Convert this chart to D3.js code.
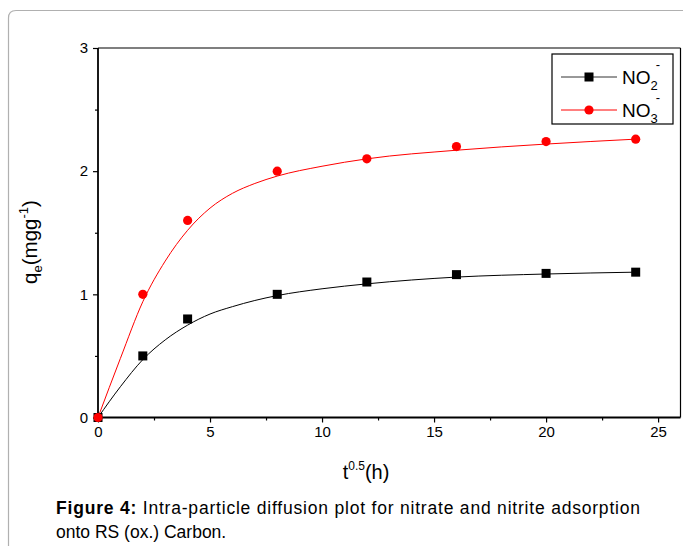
<!DOCTYPE html>
<html>
<head>
<meta charset="utf-8">
<script src="https://cdn.jsdelivr.net/npm/d3@7"></script>
<style>
html,body{margin:0;padding:0;background:#fff;}
svg{display:block;font-family:"Liberation Sans",Arial,sans-serif;}
</style>
</head>
<body>
<svg id="chart" width="683" height="546"></svg>
<script>
// ---- data ----
const timeX = [0, 2, 4, 8, 12, 16, 20, 24];
const no2Values = [0, 0.5, 0.8, 1.0, 1.1, 1.16, 1.17, 1.18];
const no3Values = [0, 1.0, 1.6, 2.0, 2.1, 2.2, 2.24, 2.26];
// fitted curves
const fitX = [0, 1, 2, 3, 4, 5, 6, 7, 8, 10, 12, 16, 20, 24];
const no2Fit = [0, 0.25, 0.47, 0.63, 0.75, 0.84, 0.90, 0.95, 0.99, 1.045, 1.085, 1.14, 1.165, 1.18];
const no3Fit = [0, 0.48, 0.94, 1.27, 1.52, 1.70, 1.82, 1.90, 1.96, 2.04, 2.10, 2.17, 2.22, 2.26];
const xTicks = [0, 5, 10, 15, 20, 25];
const yTicks = [0, 1, 2, 3];

const svg = d3.select("#chart");
const L = 98, R = 680.5, T = 48, B = 417.5;
const x = d3.scaleLinear().domain([0, 26]).range([L, R]);
const y = d3.scaleLinear().domain([0, 3]).range([B, T]);

// outer figure frame
svg.append("path")
  .attr("d", "M8.5,546 L8.5,18 Q8.5,10.5 16,10.5 L683,10.5")
  .attr("fill", "none").attr("stroke", "#b0b0b0").attr("stroke-width", 1.2);

// plot box
svg.append("line").attr("x1", L).attr("x2", R).attr("y1", T).attr("y2", T)
  .attr("stroke", "#000").attr("stroke-width", 1.2);
svg.append("line").attr("x1", R).attr("x2", R).attr("y1", T).attr("y2", B)
  .attr("stroke", "#000").attr("stroke-width", 1.2);

// axes
const xAxis = d3.axisBottom(x).tickValues(xTicks).tickSize(5).tickPadding(4).tickFormat(d3.format("d"));
const xMinor = d3.axisBottom(x).tickValues([2.5, 7.5, 12.5, 17.5, 22.5]).tickSize(3).tickFormat("");
const yAxis = d3.axisLeft(y).tickValues(yTicks).tickSize(5).tickPadding(5).tickFormat(d3.format("d"));
const yMinor = d3.axisLeft(y).tickValues([0.5, 1.5, 2.5]).tickSize(3).tickFormat("");

function styleAxis(g) {
  g.select(".domain").remove();
  g.selectAll("line").attr("stroke", "#000").attr("stroke-width", 1.2);
  g.selectAll("text").attr("font-size", 15).attr("fill", "#000")
    .attr("font-family", "Liberation Sans, Arial, sans-serif");
}
svg.append("g").attr("transform", `translate(0,${B})`).call(xAxis).call(styleAxis);
svg.append("g").attr("transform", `translate(0,${B})`).call(xMinor).call(styleAxis);
svg.append("g").attr("transform", `translate(${L},0)`).call(yAxis).call(styleAxis);
svg.append("g").attr("transform", `translate(${L},0)`).call(yMinor).call(styleAxis);

svg.append("line").attr("x1", L).attr("x2", R).attr("y1", B).attr("y2", B)
  .attr("stroke", "#000").attr("stroke-width", 1.8);
svg.append("line").attr("x1", L).attr("x2", L).attr("y1", T).attr("y2", B)
  .attr("stroke", "#000").attr("stroke-width", 1.8);

// fit curves
const line = d3.line().x(d => x(d[0])).y(d => y(d[1])).curve(d3.curveMonotoneX);
svg.append("path").datum(fitX.map((v, i) => [v, no2Fit[i]]))
  .attr("d", line).attr("fill", "none").attr("stroke", "#000").attr("stroke-width", 1);
svg.append("path").datum(fitX.map((v, i) => [v, no3Fit[i]]))
  .attr("d", line).attr("fill", "none").attr("stroke", "#ff0000").attr("stroke-width", 1);

// markers
const sq = 9;
svg.append("g").selectAll("rect").data(timeX.map((v, i) => [v, no2Values[i]])).join("rect")
  .attr("x", d => x(d[0]) - sq / 2).attr("y", d => y(d[1]) - sq / 2)
  .attr("width", sq).attr("height", sq).attr("fill", "#000");
svg.append("g").selectAll("circle").data(timeX.map((v, i) => [v, no3Values[i]])).join("circle")
  .attr("cx", d => x(d[0])).attr("cy", d => y(d[1])).attr("r", 4.6).attr("fill", "#ff0000");

// legend
const lg = svg.append("g");
lg.append("rect").attr("x", 552).attr("y", 54).attr("width", 121).attr("height", 70)
  .attr("fill", "#fff").attr("stroke", "#000").attr("stroke-width", 1.2);
const legendRows = [
  {sub: "2", color: "#000", yy: 77, marker: "sq"},
  {sub: "3", color: "#ff0000", yy: 110, marker: "ci"}
];
legendRows.forEach(r => {
  lg.append("line").attr("x1", 561).attr("x2", 617).attr("y1", r.yy).attr("y2", r.yy)
    .attr("stroke", r.color === "#000" ? "#333" : r.color).attr("stroke-width", 1);
  if (r.marker === "sq") {
    lg.append("rect").attr("x", 589 - 4.5).attr("y", r.yy - 4.5).attr("width", 9).attr("height", 9).attr("fill", "#000");
  } else {
    lg.append("circle").attr("cx", 589).attr("cy", r.yy).attr("r", 4.6).attr("fill", "#ff0000");
  }
  const t = lg.append("text").attr("x", 622).attr("y", r.yy + 7).attr("font-size", 19).attr("fill", "#000");
  t.append("tspan").text("NO");
  t.append("tspan").attr("font-size", 13).attr("dy", 6).text(r.sub);
  t.append("tspan").attr("font-size", 13).attr("dx", -2).attr("dy", -21).text("-");
});

// axis titles
const yt = svg.append("text").attr("transform", "translate(37,242) rotate(-90)")
  .attr("text-anchor", "middle").attr("font-size", 20.5).attr("fill", "#000");
yt.append("tspan").text("q");
yt.append("tspan").attr("font-size", 13).attr("dy", 5).text("e");
yt.append("tspan").attr("dy", -5).text("(mgg");
yt.append("tspan").attr("font-size", 13).attr("dy", -9).text("-1");
yt.append("tspan").attr("dy", 9).text(")");

const xt = svg.append("text").attr("x", 366).attr("y", 479)
  .attr("text-anchor", "middle").attr("font-size", 20).attr("fill", "#000");
xt.append("tspan").text("t");
xt.append("tspan").attr("font-size", 12).attr("dy", -9).text("0.5");
xt.append("tspan").attr("dy", 9).text("(h)");

// caption
const cap1 = svg.append("text").attr("x", 56).attr("y", 514).attr("font-size", 17.5).attr("fill", "#000")
  .attr("textLength", 584).attr("lengthAdjust", "spacing");
cap1.append("tspan").attr("font-weight", "bold").text("Figure 4:");
cap1.append("tspan").text(" Intra-particle diffusion plot for nitrate and nitrite adsorption");
svg.append("text").attr("x", 56).attr("y", 538).attr("font-size", 17.5).attr("fill", "#000")
  .text("onto RS (ox.) Carbon.");
</script>
</body>
</html>
